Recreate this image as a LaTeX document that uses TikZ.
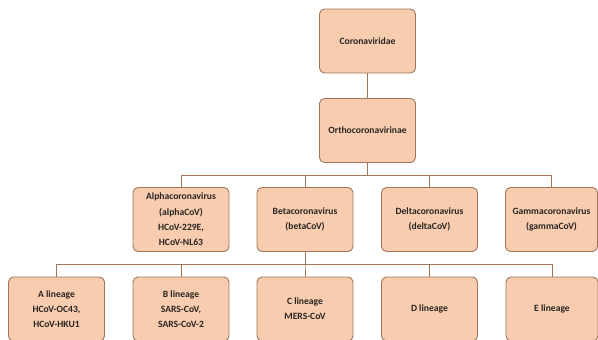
\documentclass[tikz,border=0pt]{standalone}
\usepackage{fontspec}
\setmainfont{Carlito}
\definecolor{boxfill}{RGB}{248,204,174}
\definecolor{boxline}{RGB}{160,118,88}
\definecolor{boxtext}{RGB}{40,36,34}

\begin{document}
\begin{tikzpicture}[x=1pt,y=-1pt,
  taxon/.style={draw=boxline,fill=boxfill,line width=0.9pt,rounded corners=5pt,
    minimum width=96pt,minimum height=64pt,inner sep=0pt,align=center,text=boxtext,
    font=\bfseries\fontsize{9.6}{15.3}\selectfont},
  link/.style={draw=boxline,line width=0.9pt}]
\useasboundingbox (0,0) rectangle (598,340);
\node[taxon] (fam) at (367.5,41) {Coronaviridae};
\node[taxon] (sub) at (367.5,130.5) {Orthocoronavirinae};
\node[taxon] (alpha) at (181,219.5) {Alphacoronavirus\\(alphaCoV)\\HCoV-229E,\\HCoV-NL63};
\node[taxon] (beta) at (305,219.5) {Betacoronavirus\\(betaCoV)};
\node[taxon] (delta) at (429.5,219.5) {Deltacoronavirus\\(deltaCoV)};
\node[taxon,minimum width=92pt] (gamma) at (551.5,219.5) {Gammacoronavirus\\(gammaCoV)};
\node[taxon] (linA) at (56.5,309) {A lineage\\HCoV-OC43,\\HCoV-HKU1};
\node[taxon] (linB) at (181,309) {B lineage\\SARS-CoV,\\SARS-CoV-2};
\node[taxon] (linC) at (305,309) {C lineage\\MERS-CoV};
\node[taxon] (linD) at (429.5,309) {D lineage};
\node[taxon,minimum width=92pt] (linE) at (552,309) {E lineage};
\coordinate (bus1) at (0,175);
\coordinate (bus2) at (0,264);
\draw[link] (fam) -- (sub);
\foreach \g in {alpha,beta,delta,gamma}
  \draw[link] (sub.south) -- (sub.south |- bus1) -| (\g.north);
\foreach \l in {linA,linB,linC,linD,linE}
  \draw[link] (beta.south) -- (beta.south |- bus2) -| (\l.north);
\end{tikzpicture}
\end{document}
